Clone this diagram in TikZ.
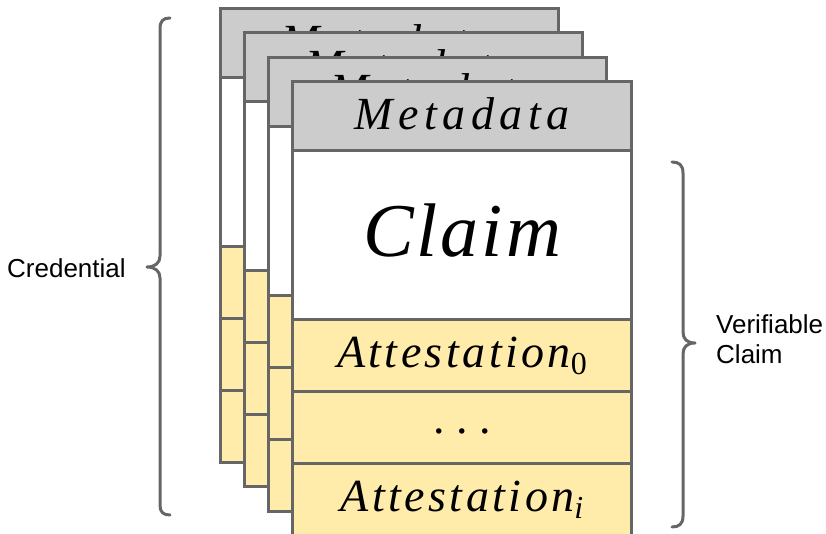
\documentclass[tikz,border=0pt]{standalone}
\usepackage{fontspec}
\setmainfont{Liberation Serif}
\newfontfamily\labelfont{Liberation Sans}
\newfontfamily\metafont{Liberation Serif}[LetterSpace=12]
\newfontfamily\claimfont{Liberation Serif}[LetterSpace=4]
\newfontfamily\attfont{Liberation Serif}[LetterSpace=7.5]
\usetikzlibrary{calc}

\definecolor{edgegray}{HTML}{666666}
\definecolor{metafill}{HTML}{CCCCCC}
\definecolor{attfill}{HTML}{FFECAA}

\tikzset{
  row/.style={draw=edgegray, line width=3pt, rectangle, inner sep=0pt,
              anchor=north west, minimum width=338pt},
  metarow/.style={row, fill=metafill, minimum height=69pt},
  claimrow/.style={row, fill=white, minimum height=169pt},
  attrow/.style={row, fill=attfill, minimum height=72pt},
  celltext/.style={anchor=base, inner sep=0pt, text=black},
  bracket/.style={draw=edgegray, line width=3pt, line cap=round, line join=round},
  sidelabel/.style={inner sep=0pt, font=\labelfont\fontsize{26}{30}\selectfont, text=black}
}

\begin{document}
\begin{tikzpicture}[x=1pt, y=-1pt]
  \useasboundingbox (0,0) rectangle (826,534);

  % four stacked credential cards, back to front
  \foreach \k in {0,1,2,3} {
    \pgfmathsetmacro{\cx}{218.5+24.33*\k}
    \pgfmathsetmacro{\cy}{7+24.33*\k}
    \node[metarow]  (m\k) at (\cx,\cy) {};
    \node[claimrow] (c\k) at (\cx,\cy+69) {};
    \node[attrow]   (a\k) at (\cx,\cy+238) {};
    \node[attrow]   (d\k) at (\cx,\cy+310) {};
    \node[attrow]   (z\k) at (\cx,\cy+382) {};
    \node[celltext, font=\metafont\itshape\fontsize{46}{50}\selectfont]
      (mt\k) at ($(m\k.north)+(0,50)$) {Metadata};
  }

  % contents of the front card
  \node[celltext, font=\claimfont\itshape\fontsize{76}{80}\selectfont]
    (ct) at ($(c3.north)+(0,108)$) {Claim};
  \node[celltext, font=\attfont\itshape\fontsize{46}{50}\selectfont]
    (at) at ($(a3.north)+(0,50)$)
    {Attestation\raisebox{-7pt}{\upshape\fontsize{32}{34}\selectfont 0}};
  \node[celltext, font=\fontsize{46}{50}\selectfont]
    (dt) at ($(d3.north)+(0,44)$) {.\hspace{11.5pt}.\hspace{11.5pt}.};
  \node[celltext, font=\attfont\itshape\fontsize{46}{50}\selectfont]
    (zt) at ($(z3.north)+(0,50)$)
    {Attestation\raisebox{-7pt}{\fontsize{32}{34}\selectfont\itshape i}};

  % brace spanning the whole credential
  \coordinate (lbtop) at (170,18);
  \coordinate (lbtip) at (147,267);
  \coordinate (lbbot) at (170,515);
  \draw[bracket] (lbtop) .. controls (163,18) and (160,21) .. (160,29)
    -- (160,256) .. controls (160,263) and (155,267) .. (lbtip)
    .. controls (155,267) and (160,271) .. (160,278)
    -- (160,505) .. controls (160,512) and (163,515) .. (lbbot);
  \node[sidelabel, anchor=base west] (cred) at (7,278) {Credential};

  % brace spanning the verifiable claim
  \coordinate (rbtop) at (672,162);
  \coordinate (rbtip) at (695,343);
  \coordinate (rbbot) at (672,527);
  \draw[bracket] (rbtop) .. controls (679,162) and (683,165) .. (683,173)
    -- (683,332) .. controls (683,339) and (687,343) .. (rbtip)
    .. controls (687,343) and (683,347) .. (683,354)
    -- (683,516) .. controls (683,524) and (679,527) .. (rbbot);
  \node[sidelabel, anchor=base west, align=left] (vc) at (716,363) {Verifiable\\Claim};
\end{tikzpicture}
\end{document}
